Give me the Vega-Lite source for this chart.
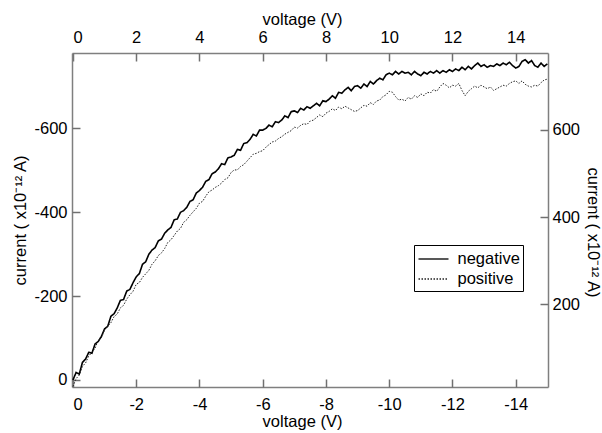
{
"$schema": "https://vega.github.io/schema/vega-lite/v6.json",
"width": 476, "height": 334,
"autosize": {"type": "none"},
"padding": {"left": 72, "top": 53, "right": 54, "bottom": 46},
"background": "white",
"config": {
 "view": {"stroke": null},
 "font": "Liberation Sans",
 "axis": {"domainColor": "#7f7f7f", "tickColor": "#707070", "domainWidth": 1.5, "tickWidth": 1.5, "tickSize": 8, "labelColor": "black", "titleColor": "black", "labelFontSize": 16.5, "titleFontSize": 16.5, "titleFontWeight": "normal", "grid": false, "labelFont": "Liberation Sans", "titleFont": "Liberation Sans"}
},
"datasets": {
"neg": [
{"v":0,"i":0},{"v":-0.1,"i":-18},{"v":-0.2,"i":-14},{"v":-0.3,"i":-42},{"v":-0.4,"i":-50},{"v":-0.5,"i":-66},{"v":-0.6,"i":-64},{"v":-0.7,"i":-86},{"v":-0.8,"i":-92},{"v":-0.9,"i":-104},
{"v":-1.0,"i":-122},{"v":-1.1,"i":-128},{"v":-1.2,"i":-152},{"v":-1.3,"i":-158},{"v":-1.4,"i":-172},{"v":-1.5,"i":-190},{"v":-1.6,"i":-192},{"v":-1.7,"i":-212},{"v":-1.8,"i":-216},{"v":-1.9,"i":-232},
{"v":-2.0,"i":-246},{"v":-2.1,"i":-254},{"v":-2.2,"i":-276},{"v":-2.3,"i":-282},{"v":-2.4,"i":-300},{"v":-2.5,"i":-310},{"v":-2.6,"i":-316},{"v":-2.7,"i":-332},{"v":-2.8,"i":-336},{"v":-2.9,"i":-350},
{"v":-3.0,"i":-358},{"v":-3.1,"i":-364},{"v":-3.2,"i":-382},{"v":-3.3,"i":-384},{"v":-3.4,"i":-400},{"v":-3.5,"i":-404},{"v":-3.6,"i":-412},{"v":-3.7,"i":-426},{"v":-3.8,"i":-430},{"v":-3.9,"i":-446},
{"v":-4.0,"i":-452},{"v":-4.1,"i":-460},{"v":-4.2,"i":-474},{"v":-4.3,"i":-478},{"v":-4.4,"i":-492},{"v":-4.5,"i":-496},{"v":-4.6,"i":-504},{"v":-4.7,"i":-516},{"v":-4.8,"i":-514},{"v":-4.9,"i":-530},
{"v":-5.0,"i":-532},{"v":-5.1,"i":-536},{"v":-5.2,"i":-550},{"v":-5.3,"i":-548},{"v":-5.4,"i":-564},{"v":-5.5,"i":-566},{"v":-5.6,"i":-574},{"v":-5.7,"i":-586},{"v":-5.8,"i":-582},{"v":-5.9,"i":-596},
{"v":-6.0,"i":-596},{"v":-6.1,"i":-600},{"v":-6.2,"i":-608},{"v":-6.3,"i":-604},{"v":-6.4,"i":-616},{"v":-6.5,"i":-614},{"v":-6.6,"i":-620},{"v":-6.7,"i":-630},{"v":-6.8,"i":-626},{"v":-6.9,"i":-640},
{"v":-7.0,"i":-642},{"v":-7.1,"i":-638},{"v":-7.2,"i":-648},{"v":-7.3,"i":-644},{"v":-7.4,"i":-652},{"v":-7.5,"i":-648},{"v":-7.6,"i":-654},{"v":-7.7,"i":-660},{"v":-7.8,"i":-654},{"v":-7.9,"i":-666},
{"v":-8.0,"i":-664},{"v":-8.1,"i":-670},{"v":-8.2,"i":-678},{"v":-8.3,"i":-672},{"v":-8.4,"i":-686},{"v":-8.5,"i":-684},{"v":-8.6,"i":-692},{"v":-8.7,"i":-698},{"v":-8.8,"i":-690},{"v":-8.9,"i":-700},
{"v":-9.0,"i":-702},{"v":-9.1,"i":-696},{"v":-9.2,"i":-706},{"v":-9.3,"i":-700},{"v":-9.4,"i":-712},{"v":-9.5,"i":-706},{"v":-9.6,"i":-714},{"v":-9.7,"i":-720},{"v":-9.8,"i":-716},{"v":-9.9,"i":-728},
{"v":-10.0,"i":-732},{"v":-10.1,"i":-728},{"v":-10.2,"i":-736},{"v":-10.3,"i":-730},{"v":-10.4,"i":-736},{"v":-10.5,"i":-732},{"v":-10.6,"i":-734},{"v":-10.7,"i":-728},{"v":-10.8,"i":-736},{"v":-10.9,"i":-730},
{"v":-11.0,"i":-726},{"v":-11.1,"i":-734},{"v":-11.2,"i":-730},{"v":-11.3,"i":-736},{"v":-11.4,"i":-732},{"v":-11.5,"i":-738},{"v":-11.6,"i":-732},{"v":-11.7,"i":-738},{"v":-11.8,"i":-734},{"v":-11.9,"i":-740},
{"v":-12.0,"i":-736},{"v":-12.1,"i":-742},{"v":-12.2,"i":-738},{"v":-12.3,"i":-746},{"v":-12.4,"i":-740},{"v":-12.5,"i":-748},{"v":-12.6,"i":-742},{"v":-12.7,"i":-750},{"v":-12.8,"i":-756},{"v":-12.9,"i":-748},
{"v":-13.0,"i":-752},{"v":-13.1,"i":-746},{"v":-13.2,"i":-750},{"v":-13.3,"i":-748},{"v":-13.4,"i":-754},{"v":-13.5,"i":-750},{"v":-13.6,"i":-756},{"v":-13.7,"i":-752},{"v":-13.8,"i":-758},{"v":-13.9,"i":-750},
{"v":-14.0,"i":-744},{"v":-14.1,"i":-748},{"v":-14.2,"i":-760},{"v":-14.3,"i":-764},{"v":-14.4,"i":-756},{"v":-14.5,"i":-762},{"v":-14.6,"i":-750},{"v":-14.7,"i":-746},{"v":-14.8,"i":-756},{"v":-14.9,"i":-748},
{"v":-15.0,"i":-754}
],
"pos": [
{"v":0,"i":12},{"v":0.1,"i":30},{"v":0.2,"i":38},{"v":0.3,"i":58},{"v":0.4,"i":66},{"v":0.5,"i":82},{"v":0.6,"i":90},{"v":0.7,"i":100},{"v":0.8,"i":118},{"v":0.9,"i":124},
{"v":1.0,"i":142},{"v":1.1,"i":150},{"v":1.2,"i":158},{"v":1.3,"i":172},{"v":1.4,"i":178},{"v":1.5,"i":192},{"v":1.6,"i":198},{"v":1.7,"i":212},{"v":1.8,"i":222},{"v":1.9,"i":230},
{"v":2.0,"i":246},{"v":2.1,"i":250},{"v":2.2,"i":262},{"v":2.3,"i":270},{"v":2.4,"i":278},{"v":2.5,"i":292},{"v":2.6,"i":300},{"v":2.7,"i":312},{"v":2.8,"i":318},{"v":2.9,"i":328},
{"v":3.0,"i":342},{"v":3.1,"i":348},{"v":3.2,"i":358},{"v":3.3,"i":368},{"v":3.4,"i":374},{"v":3.5,"i":388},{"v":3.6,"i":394},{"v":3.7,"i":404},{"v":3.8,"i":412},{"v":3.9,"i":420},
{"v":4.0,"i":432},{"v":4.1,"i":436},{"v":4.2,"i":448},{"v":4.3,"i":458},{"v":4.4,"i":462},{"v":4.5,"i":468},{"v":4.6,"i":472},{"v":4.7,"i":478},{"v":4.8,"i":486},{"v":4.9,"i":490},
{"v":5.0,"i":502},{"v":5.1,"i":508},{"v":5.2,"i":508},{"v":5.3,"i":516},{"v":5.4,"i":520},{"v":5.5,"i":528},{"v":5.6,"i":536},{"v":5.7,"i":544},{"v":5.8,"i":546},{"v":5.9,"i":550},
{"v":6.0,"i":552},{"v":6.1,"i":560},{"v":6.2,"i":566},{"v":6.3,"i":572},{"v":6.4,"i":574},{"v":6.5,"i":580},{"v":6.6,"i":584},{"v":6.7,"i":590},{"v":6.8,"i":594},{"v":6.9,"i":598},
{"v":7.0,"i":606},{"v":7.1,"i":604},{"v":7.2,"i":610},{"v":7.3,"i":614},{"v":7.4,"i":612},{"v":7.5,"i":620},{"v":7.6,"i":622},{"v":7.7,"i":628},{"v":7.8,"i":634},{"v":7.9,"i":630},
{"v":8.0,"i":638},{"v":8.1,"i":642},{"v":8.2,"i":648},{"v":8.3,"i":644},{"v":8.4,"i":652},{"v":8.5,"i":648},{"v":8.6,"i":654},{"v":8.7,"i":650},{"v":8.8,"i":646},{"v":8.9,"i":642},
{"v":9.0,"i":644},{"v":9.1,"i":650},{"v":9.2,"i":656},{"v":9.3,"i":654},{"v":9.4,"i":662},{"v":9.5,"i":658},{"v":9.6,"i":666},{"v":9.7,"i":668},{"v":9.8,"i":676},{"v":9.9,"i":680},
{"v":10.0,"i":688},{"v":10.1,"i":686},{"v":10.2,"i":676},{"v":10.3,"i":668},{"v":10.4,"i":670},{"v":10.5,"i":666},{"v":10.6,"i":674},{"v":10.7,"i":670},{"v":10.8,"i":678},{"v":10.9,"i":674},
{"v":11.0,"i":682},{"v":11.1,"i":678},{"v":11.2,"i":686},{"v":11.3,"i":684},{"v":11.4,"i":692},{"v":11.5,"i":688},{"v":11.6,"i":698},{"v":11.7,"i":706},{"v":11.8,"i":702},{"v":11.9,"i":696},
{"v":12.0,"i":702},{"v":12.1,"i":700},{"v":12.2,"i":706},{"v":12.3,"i":690},{"v":12.4,"i":678},{"v":12.5,"i":688},{"v":12.6,"i":694},{"v":12.7,"i":700},{"v":12.8,"i":696},{"v":12.9,"i":702},
{"v":13.0,"i":698},{"v":13.1,"i":694},{"v":13.2,"i":698},{"v":13.3,"i":690},{"v":13.4,"i":694},{"v":13.5,"i":698},{"v":13.6,"i":702},{"v":13.7,"i":700},{"v":13.8,"i":706},{"v":13.9,"i":710},
{"v":14.0,"i":712},{"v":14.1,"i":706},{"v":14.2,"i":712},{"v":14.3,"i":704},{"v":14.4,"i":700},{"v":14.5,"i":698},{"v":14.6,"i":702},{"v":14.7,"i":700},{"v":14.8,"i":708},{"v":14.9,"i":714},
{"v":15.0,"i":716}
]
},
"layer": [
{
 "layer": [
 {
  "data": {"name": "neg"},
  "mark": {"type": "line", "color": "black", "strokeWidth": 1.6, "clip": true},
  "encoding": {
   "x": {"field": "v", "type": "quantitative", "scale": {"domain": [-15.02, 0.03], "reverse": true, "nice": false, "zero": false},
    "axis": {"orient": "bottom", "ticks": false, "values": [0,-2,-4,-6,-8,-10,-12,-14], "labelExpr": "toString(datum.value)", "labelPadding": 9, "title": "voltage (V)", "titleX": 230, "titleY": 34, "titleBaseline": "middle"}},
   "y": {"field": "i", "type": "quantitative", "scale": {"domain": [-780, 16.7], "reverse": true, "nice": false, "zero": false},
    "axis": {"orient": "left", "ticks": false, "values": [-600,-400,-200,0], "labelExpr": "toString(datum.value)", "labelPadding": 5, "title": "current ( x10⁻¹² A)", "titleX": -52, "titleY": 167, "titleBaseline": "middle"}},
   "strokeDash": {"datum": "negative", "type": "nominal",
    "scale": {"domain": ["negative", "positive"], "range": [[1, 0], [1.5, 1.5]]},
    "legend": {"title": null, "orient": "none", "legendX": 342, "legendY": 192, "strokeColor": "black", "padding": 3, "symbolType": "M-1.5,0H1.5", "symbolSize": 400, "symbolOffset": 5.5, "symbolFillColor": "transparent", "symbolStrokeWidth": 1.5, "symbolStrokeColor": "black", "labelFontSize": 16.5, "labelColor": "black", "labelOffset": 13, "rowPadding": -1, "labelFont": "Liberation Sans"}}
  }
 },
 {
  "data": {"name": "neg"},
  "mark": {"type": "line", "opacity": 0},
  "encoding": {
   "x": {"field": "v", "type": "quantitative",
    "axis": {"orient": "top", "offset": -334, "domain": false, "labels": false, "title": null, "values": [0,-2,-4,-6,-8,-10,-12,-14]}},
   "y": {"field": "i", "type": "quantitative",
    "axis": {"orient": "right", "offset": -476, "domain": false, "labels": false, "title": null, "values": [-600,-400,-200,0]}}
  }
 }
 ],
 "resolve": {"axis": {"x": "independent", "y": "independent"}}
},
{
 "layer": [
 {
  "data": {"name": "pos"},
  "mark": {"type": "line", "color": "#222222", "strokeWidth": 1, "clip": true},
  "encoding": {
   "x": {"field": "v", "type": "quantitative", "scale": {"domain": [-0.03, 15.02], "nice": false, "zero": false},
    "axis": {"orient": "top", "ticks": false, "values": [0,2,4,6,8,10,12,14], "labelPadding": 8, "title": "voltage (V)", "titleX": 230, "titleY": -34, "titleBaseline": "middle"}},
   "y": {"field": "i", "type": "quantitative", "scale": {"domain": [10.8, 775.8], "nice": false, "zero": false},
    "axis": {"orient": "right", "ticks": false, "values": [200,400,600], "labelPadding": 4, "title": "current ( x10⁻¹² A)", "titleAngle": 90, "titleX": 44, "titleY": 179, "titleBaseline": "middle"}},
   "strokeDash": {"datum": "positive", "type": "nominal"}
  }
 },
 {
  "data": {"name": "pos"},
  "mark": {"type": "line", "opacity": 0},
  "encoding": {
   "x": {"field": "v", "type": "quantitative",
    "axis": {"orient": "bottom", "offset": -334, "domain": false, "labels": false, "title": null, "values": [0,2,4,6,8,10,12,14]}},
   "y": {"field": "i", "type": "quantitative",
    "axis": {"orient": "left", "offset": -476, "domain": false, "labels": false, "title": null, "values": [200,400,600]}}
  }
 }
 ],
 "resolve": {"axis": {"x": "independent", "y": "independent"}}
}
],
"resolve": {"scale": {"x": "independent", "y": "independent"}}
}
